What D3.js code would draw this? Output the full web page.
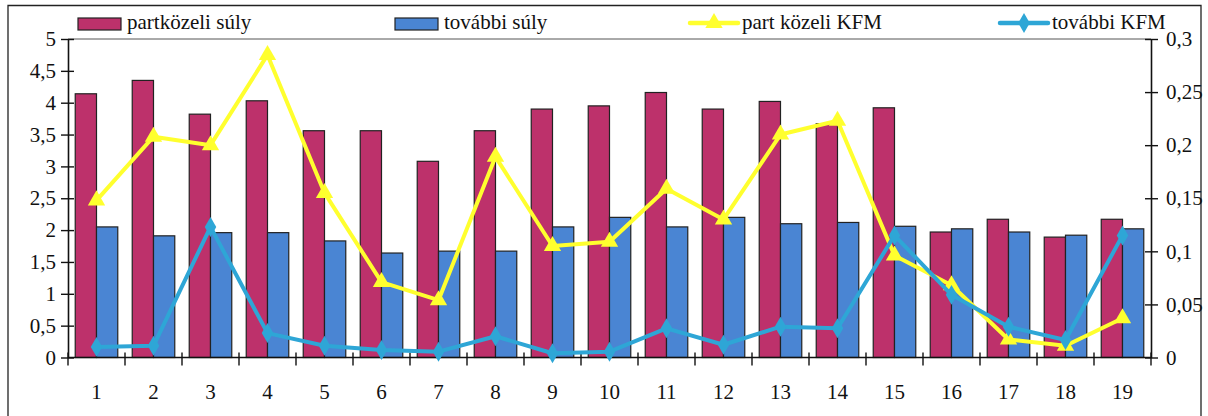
<!DOCTYPE html>
<html>
<head>
<meta charset="utf-8">
<script src="https://cdn.jsdelivr.net/npm/d3@7/dist/d3.min.js"></script>
<style>
  html, body { margin: 0; padding: 0; background: #fff; }
  svg { display: block; }
  svg text { font-family: "Liberation Serif", "DejaVu Serif", "Noto Serif", "Times New Roman", Times, serif; fill: #111; }
</style>
</head>
<body>
<svg id="chart" width="1208" height="416"></svg>
<script>
// Sampling points 1..19
const categories = ["1","2","3","4","5","6","7","8","9","10","11","12","13","14","15","16","17","18","19"];

// Weights (left axis)
const partkozeliSuly = [4.14, 4.35, 3.82, 4.03, 3.56, 3.56, 3.08, 3.56, 3.90, 3.95, 4.16, 3.90, 4.02, 3.67, 3.92, 1.97, 2.17, 1.89, 2.17];
const tovabbiSuly    = [2.05, 1.91, 1.96, 1.96, 1.83, 1.64, 1.67, 1.67, 2.05, 2.20, 2.05, 2.20, 2.10, 2.12, 2.06, 2.02, 1.97, 1.92, 2.02];

// KFM (right axis)
const partKozeliKFM = [0.148, 0.208, 0.200, 0.285, 0.155, 0.071, 0.054, 0.189, 0.105, 0.109, 0.159, 0.130, 0.210, 0.223, 0.096, 0.068, 0.017, 0.011, 0.037];
const tovabbiKFM    = [0.010, 0.011, 0.123, 0.023, 0.011, 0.007, 0.0055, 0.020, 0.004, 0.0055, 0.0275, 0.012, 0.029, 0.0275, 0.115, 0.059, 0.029, 0.0165, 0.115];

const leftTicks  = [0, 0.5, 1, 1.5, 2, 2.5, 3, 3.5, 4, 4.5, 5];
const rightTicks = [0, 0.05, 0.1, 0.15, 0.2, 0.25, 0.3];

const seriesNames = ["partközeli súly", "további súly", "part közeli KFM", "további KFM"];
const colors = { pink: "#BD316B", blue: "#4A85D3", yellow: "#FFFF2E", cyan: "#2EA6D6" };

const FONT = '"Liberation Serif", "DejaVu Serif", "Noto Serif", "Times New Roman", Times, serif';

const svg = d3.select("#chart").attr("font-family", FONT);
const plot = { left: 68, right: 1151, top: 39, bottom: 357.5 };

const huFmt = d => String(d).replace(".", ",");

// Outer frame (bottom edge falls outside the view)
svg.append("path")
  .attr("d", `M8,416 L8,5.5 L1201,5.5 L1201,416`)
  .attr("fill", "none").attr("stroke", "#222").attr("stroke-width", 1.3);

const x = d3.scaleBand().domain(categories).range([plot.left, plot.right]).paddingInner(0).paddingOuter(0);
const xSub = d3.scaleBand().domain(["p", "t"]).range([0, x.bandwidth()]).paddingInner(0).paddingOuter(0.34);
const yL = d3.scaleLinear().domain([0, 5]).range([plot.bottom, plot.top]);
const yR = d3.scaleLinear().domain([0, 0.3]).range([plot.bottom, plot.top]);

// Plot-area top edge
svg.append("line")
  .attr("x1", plot.left).attr("x2", plot.right)
  .attr("y1", plot.top).attr("y2", plot.top)
  .attr("stroke", "#555").attr("stroke-width", 1);

// Bars
const barData = categories.map((c, i) => ({ c, p: partkozeliSuly[i], t: tovabbiSuly[i] }));
const groups = svg.append("g").selectAll("g").data(barData).join("g")
  .attr("transform", d => `translate(${x(d.c)},0)`);
groups.append("rect")
  .attr("x", xSub("p")).attr("width", xSub.bandwidth())
  .attr("y", d => yL(d.p)).attr("height", d => yL(0) - yL(d.p))
  .attr("fill", colors.pink).attr("stroke", "#222").attr("stroke-width", 1.2);
groups.append("rect")
  .attr("x", xSub("t")).attr("width", xSub.bandwidth())
  .attr("y", d => yL(d.t)).attr("height", d => yL(0) - yL(d.t))
  .attr("fill", colors.blue).attr("stroke", "#222").attr("stroke-width", 1.2);

// Axes
const axisStyle = g => {
  g.attr("font-family", FONT).attr("font-size", 21);
  g.selectAll(".domain").attr("stroke", "#111").attr("stroke-width", 1.6);
  g.selectAll(".tick line").attr("stroke", "#111").attr("stroke-width", 1.4);
  g.selectAll("text").attr("fill", "#111");
};

const gL = svg.append("g").attr("transform", `translate(${plot.left},0)`)
  .call(d3.axisLeft(yL).tickValues(leftTicks).tickFormat(huFmt).tickSizeInner(7).tickSizeOuter(0).tickPadding(5))
  .call(axisStyle);
gL.selectAll(".tick line").attr("x2", 6).attr("x1", -7);

const gR = svg.append("g").attr("transform", `translate(${plot.right},0)`)
  .call(d3.axisRight(yR).tickValues(rightTicks).tickFormat(huFmt).tickSizeInner(7).tickSizeOuter(0).tickPadding(8))
  .call(axisStyle);
gR.selectAll(".tick line").attr("x1", -6).attr("x2", 7);

// Category axis: labels centred, ticks on band edges
const gX = svg.append("g").attr("transform", `translate(0,${plot.bottom})`)
  .call(d3.axisBottom(x).tickSize(0).tickPadding(27))
  .call(axisStyle);
gX.select(".domain").attr("d", `M${plot.left},0H${plot.right}`);
const edges = categories.map(c => x(c)).concat([plot.right]);
gX.selectAll("line.edge").data(edges).join("line").attr("class", "edge")
  .attr("x1", d => d).attr("x2", d => d).attr("y1", -5).attr("y2", 8)
  .attr("stroke", "#111").attr("stroke-width", 1.4);

// Lines with markers
const cx = c => x(c) + x.bandwidth() / 2;
const lineGen = vals => d3.line().x((d, i) => cx(categories[i])).y(d => yR(d))(vals);

const triSym = d3.symbol().type(d3.symbolTriangle).size(130);
const diaSym = d3.symbol().type(d3.symbolDiamond).size(115);

svg.append("path").attr("d", lineGen(partKozeliKFM))
  .attr("fill", "none").attr("stroke", colors.yellow).attr("stroke-width", 4).attr("stroke-linejoin", "round");
svg.append("g").selectAll("path").data(partKozeliKFM).join("path")
  .attr("transform", (d, i) => `translate(${cx(categories[i])},${yR(d)})`)
  .attr("d", triSym).attr("fill", colors.yellow);

svg.append("path").attr("d", lineGen(tovabbiKFM))
  .attr("fill", "none").attr("stroke", colors.cyan).attr("stroke-width", 4).attr("stroke-linejoin", "round");
svg.append("g").selectAll("path").data(tovabbiKFM).join("path")
  .attr("transform", (d, i) => `translate(${cx(categories[i])},${yR(d)})`)
  .attr("d", diaSym).attr("fill", colors.cyan);

// Legend
const legend = svg.append("g").attr("font-family", FONT).attr("font-size", 21);
const legItems = [
  { name: seriesNames[0], kind: "bar", color: colors.pink, x0: 78 },
  { name: seriesNames[1], kind: "bar", color: colors.blue, x0: 395 },
  { name: seriesNames[2], kind: "line", color: colors.yellow, sym: triSym, x0: 690 },
  { name: seriesNames[3], kind: "line", color: colors.cyan, sym: diaSym, x0: 1000 }
];
legItems.forEach(it => {
  const g = legend.append("g").attr("transform", `translate(${it.x0},0)`);
  if (it.kind === "bar") {
    g.append("rect").attr("x", 0).attr("y", 18).attr("width", 43).attr("height", 12)
      .attr("fill", it.color).attr("stroke", "#222").attr("stroke-width", 1.2);
    g.append("text").attr("x", 49).attr("y", 29).text(it.name);
  } else {
    g.append("line").attr("x1", 0).attr("x2", 48).attr("y1", 23).attr("y2", 23)
      .attr("stroke", it.color).attr("stroke-width", 4.5).attr("stroke-linecap", "round");
    g.append("path").attr("transform", "translate(24,23)").attr("d", it.sym).attr("fill", it.color);
    g.append("text").attr("x", 52).attr("y", 29).text(it.name);
  }
});
</script>
</body>
</html>
